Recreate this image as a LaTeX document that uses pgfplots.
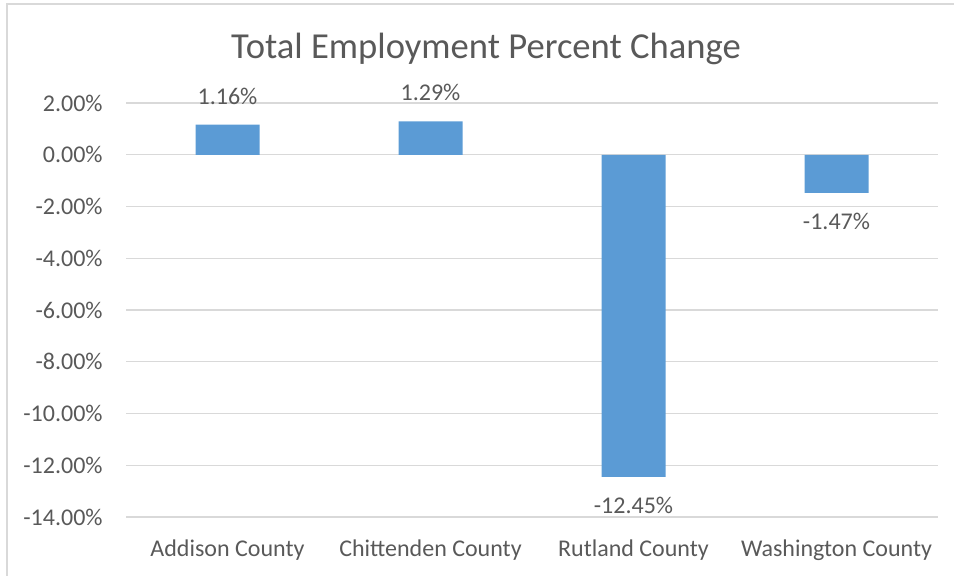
\documentclass[border=0pt]{standalone}
\usepackage{fontspec}
\setmainfont{Carlito}
\usepackage{pgfplots}
\pgfplotsset{compat=1.18}

\definecolor{barblue}{HTML}{5B9BD5}
\definecolor{txtgray}{HTML}{595959}
\definecolor{gridgray}{HTML}{D9D9D9}

% employment percent change by county
\pgfplotstableread{
idx change
0   1.16
1   1.29
2   -12.45
3   -1.47
}\emptable

\begin{document}
\begin{tikzpicture}
  % page is 954x575 px at 0.5pt per px
  \useasboundingbox (0,0) rectangle (477pt,287.5pt);
  \clip (0,0) rectangle (477pt,287.5pt);
  \draw[gridgray, line width=1pt] (3.5pt,-5pt) -- (3.5pt,285.5pt) -- (490pt,285.5pt);

  \node[txtgray, font=\fontsize{18.3}{22}\selectfont] at (243pt,263pt) {Total Employment Percent Change};

  \begin{axis}[
    at={(63pt,29pt)}, anchor=south west,
    scale only axis,
    width=406pt, height=207pt,
    ybar, bar width=32pt,
    xmin=-0.5, xmax=3.5,
    ymin=-14, ymax=2,
    ytick distance=2,
    xtick=data,
    xticklabels={Addison County, Chittenden County, Rutland County, Washington County},
    axis line style={draw=none},
    major tick style={draw=none},
    ymajorgrids,
    grid style={gridgray, line width=0.6pt},
    /pgf/number format/assume math mode=true,
    yticklabel={\pgfmathprintnumber[fixed,fixed zerofill,precision=2]{\tick}\%},
    ticklabel style={font=\fontsize{12}{14}\selectfont, text=txtgray},
    yticklabel style={anchor=east, inner sep=0pt, xshift=-11.5pt},
    xticklabel style={anchor=north, inner sep=0pt, yshift=-7pt},
    nodes near coords={\pgfmathprintnumber[fixed,fixed zerofill,precision=2]{\pgfplotspointmeta}\%},
    nodes near coords style={font=\fontsize{12}{14}\selectfont, text=txtgray, inner xsep=0pt, inner ysep=10pt},
  ]
    \addplot[fill=barblue, draw=none] table[x=idx, y=change] {\emptable};
  \end{axis}
\end{tikzpicture}
\end{document}
